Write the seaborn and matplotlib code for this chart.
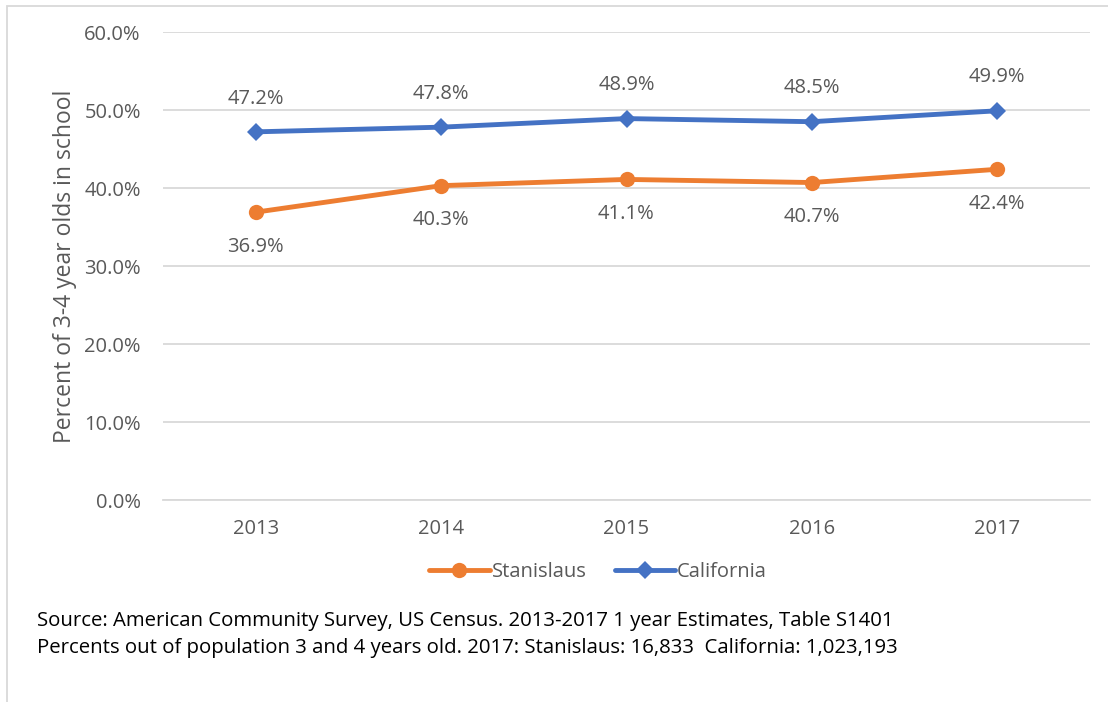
import matplotlib
matplotlib.use("Agg")
import matplotlib.pyplot as plt
import seaborn as sns
import pandas as pd
from matplotlib.patches import Rectangle
from matplotlib.lines import Line2D
from matplotlib.ticker import FuncFormatter

years = ["2013", "2014", "2015", "2016", "2017"]
stanislaus = [36.9, 40.3, 41.1, 40.7, 42.4]
california = [47.2, 47.8, 48.9, 48.5, 49.9]
series_names = ["Stanislaus", "California"]
colors = {"Stanislaus": "#ED7D31", "California": "#4472C4"}
markers = {"Stanislaus": "o", "California": "D"}
y_ticks = [0, 10, 20, 30, 40, 50, 60]
source_lines = [
    "Source: American Community Survey, US Census. 2013-2017 1 year Estimates, Table S1401",
    "Percents out of population 3 and 4 years old. 2017: Stanislaus: 16,833  California: 1,023,193",
]

sns.set_style("white")
plt.rcParams["font.family"] = ["Open Sans", "DejaVu Sans"]

df = pd.DataFrame({
    "x": list(range(len(years))) * 2,
    "value": stanislaus + california,
    "series": ["Stanislaus"] * len(years) + ["California"] * len(years),
})

fig = plt.figure(figsize=(11.08, 7.02), dpi=100)
ax = fig.add_axes([163 / 1108, 1 - 500 / 702, (1090 - 163) / 1108, (500 - 32) / 702])

for name in series_names:
    sub = df[df.series == name]
    sns.lineplot(data=sub, x="x", y="value", ax=ax, color=colors[name],
                 linewidth=3.5, marker=markers[name],
                 markersize=11 if name == "Stanislaus" else 9,
                 markeredgewidth=0, legend=False, zorder=3)

gray = "#595959"
for i, v in enumerate(california):
    ax.annotate(f"{v:.1f}%", (i, v), xytext=(0, 24), textcoords="offset points",
                ha="center", va="center", fontsize=14.5, color=gray)
for i, v in enumerate(stanislaus):
    ax.annotate(f"{v:.1f}%", (i, v), xytext=(0, -25), textcoords="offset points",
                ha="center", va="center", fontsize=14.5, color=gray)

ax.set_xlim(-0.5, len(years) - 0.5)
ax.set_ylim(0, 60)
ax.set_yticks(y_ticks)
ax.yaxis.set_major_formatter(FuncFormatter(lambda v, p: f"{v:.1f}%"))
ax.set_xticks(range(len(years)))
ax.set_xticklabels(years)
ax.tick_params(axis="both", labelsize=14.5, labelcolor=gray, length=0)
ax.tick_params(axis="y", pad=16)
ax.tick_params(axis="x", pad=14)
ax.grid(axis="y", color="#D9D9D9", linewidth=1.3)
ax.set_axisbelow(True)
for s in ["top", "right", "left"]:
    ax.spines[s].set_visible(False)
ax.spines["bottom"].set_color("#D9D9D9")
ax.spines["bottom"].set_linewidth(1.3)
ax.set_xlabel("")
ax.set_ylabel("Percent of 3-4 year olds in school", fontsize=16.5, color=gray, labelpad=5)

handles = [Line2D([], [], color=colors[n], marker=markers[n], linewidth=3.5,
                  markersize=11 if n == "Stanislaus" else 9, markeredgewidth=0)
           for n in series_names]
fig.legend(handles, series_names, loc="center", bbox_to_anchor=(598 / 1108, 1 - 572 / 702),
           ncol=2, frameon=False, fontsize=14.5, labelcolor=gray, handlelength=3.0,
           handletextpad=0.1, columnspacing=1.4)

fig.text(37 / 1108, 1 - 621 / 702, source_lines[0], fontsize=14.7, color="black",
         va="center", ha="left")
fig.text(37 / 1108, 1 - 648 / 702, source_lines[1], fontsize=14.7, color="black",
         va="center", ha="left")

fig.patches.append(Rectangle((7 / 1108, -0.05), 1.1, 1 - 6 / 702 + 0.05,
                             transform=fig.transFigure, fill=False,
                             edgecolor="#D9D9D9", linewidth=1.3))

fig.savefig("out.png", dpi=100)
